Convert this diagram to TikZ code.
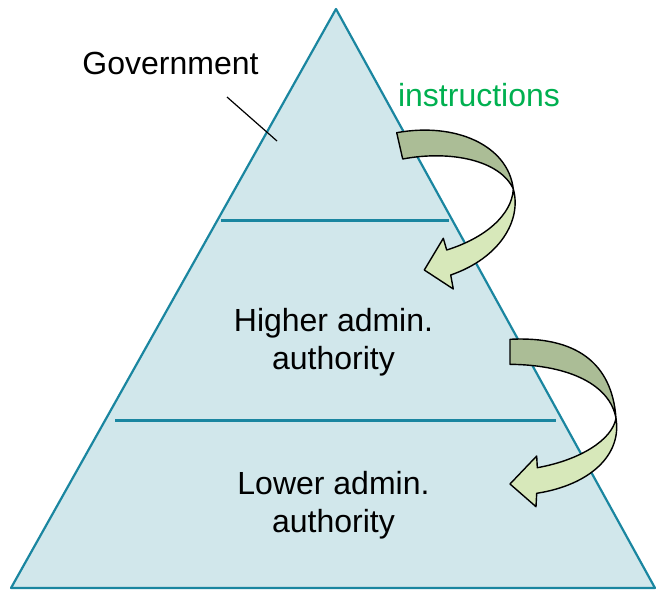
\documentclass[tikz,border=0pt]{standalone}
\usepackage{fontspec}
\setmainfont{Liberation Sans}
\usepackage{tikz}

\definecolor{pyrfill}{HTML}{D1E7EB}
\definecolor{pyredge}{HTML}{1A86A0}
\definecolor{backband}{HTML}{ABBD96}
\definecolor{frontband}{HTML}{D7E8BA}
\definecolor{instrgreen}{HTML}{00B050}

\begin{document}
\begin{tikzpicture}[x = 1pt, y = -1pt,
	edge/.style = {pyredge, line width = 2.2pt, line join = round},
	level/.style = {pyredge, line width = 3pt},
	band/.style = {draw = black, line width = 1.4pt, line join = round},
	lbl/.style = {font = \fontsize{32}{38}\selectfont, align = center, inner sep = 0pt}]
	 \useasboundingbox (0, 0) rectangle (657, 592);
	 
	 % pyramid and its levels
	 \coordinate (apex) at (336, 9);
	 \coordinate (baseL) at (11, 588);
	 \coordinate (baseR) at (655, 588);
	 \draw[edge, fill = pyrfill] (apex) -- (baseL) -- (baseR) -- cycle;
	 \draw[level] (221, 220) -- (449, 220);
	 \draw[level] (115, 420) -- (556, 420);
	 
	 % base anchor sits on the last line
	 \node[lbl, anchor = base] (gov) at (170.5, 74) {Government};
	 \node[lbl, anchor = base, text = instrgreen] (instr) at (479, 106) {instructions};
	 \node[lbl, anchor = base] (higher) at (333.5, 369) {Higher admin.\\authority};
	 \node[lbl, anchor = base] (lower) at (333.5, 532) {Lower admin.\\authority};
	 
	 \coordinate (govfrom) at (227, 97);
	 \coordinate (govto) at (277, 141);
	 \draw[thin, line width = 1.2pt] (govfrom) -- (govto);
	 
	 % upper curved arrow
	 \draw[band, fill = backband] (396.7, 132.7) .. controls (455, 122) and (508, 145) .. (513.3, 189)
	 .. controls (500, 160) and (450, 150) .. (402.7, 159) -- cycle;
	 \draw[band, fill = frontband] (513.3, 189) .. controls (522, 220) and (500, 258) .. (450.7, 275)
	 -- (453.3, 289) -- (424.3, 270) -- (443.3, 238.3) -- (446.7, 250)
	 .. controls (485, 238) and (512, 215) .. (513.3, 189) -- cycle;
	 
	 % lower curved arrow
	 \draw[band, fill = backband] (510, 339.3) .. controls (575, 336) and (612, 362) .. (616, 418.3)
	 .. controls (610, 385) and (570, 365) .. (510, 364.3) -- cycle;
	 \draw[band, fill = frontband] (616, 418.3) .. controls (622, 455) and (590, 485) .. (536.7, 493.3)
	 -- (536, 506.7) -- (510, 484) -- (536.7, 456) -- (537.3, 467.7)
	 .. controls (580, 460) and (612, 440) .. (616, 418.3) -- cycle;
\end{tikzpicture}
\end{document}
